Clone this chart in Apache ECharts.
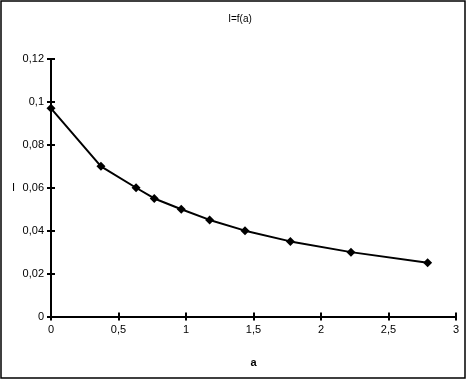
<!DOCTYPE html>
<html>
<head>
<meta charset="utf-8">
<script src="https://cdn.jsdelivr.net/npm/echarts@6/dist/echarts.min.js"></script>
<style>html,body{margin:0;padding:0;background:#fff}#c{width:467px;height:381px}</style>
</head>
<body>
<div id="c"></div>
<script>
const titleText = 'I=f(a)';
const xName = 'a';
const yName = 'I';
const aValues = [0, 0.37, 0.63, 0.765, 0.965, 1.175, 1.437, 1.773, 2.222, 2.79];
const iValues = [0.097, 0.070, 0.060, 0.055, 0.050, 0.045, 0.040, 0.035, 0.030, 0.025];
const xTicks = [0, 0.5, 1, 1.5, 2, 2.5, 3];
const yTicks = [0, 0.02, 0.04, 0.06, 0.08, 0.1, 0.12];

const fmt = v => String(+v.toFixed(4)).replace('.', ',');
const font = 'Liberation Sans, Arial, sans-serif';
const chart = echarts.init(document.getElementById('c'), null, {renderer: 'canvas'});
const axisLine = {show: true, onZero: false, lineStyle: {color: '#000', width: 2}};
const tick = {show: true, length: 4, lineStyle: {color: '#000', width: 2}};
chart.setOption({
  animation: false,
  backgroundColor: '#fff',
  title: {text: titleText, left: 235, top: 9, textAlign: 'center',
    textStyle: {fontFamily: font, fontSize: 10, fontWeight: 'normal', color: '#000'}},
  grid: {left: 51, right: 11, top: 59, bottom: 64.5, containLabel: false},
  graphic: [{type: 'rect', shape: {x: 1, y: 1, width: 464, height: 377},
    style: {fill: 'none', stroke: '#000', lineWidth: 1.5}, silent: true}],
  xAxis: [{
    type: 'value', position: 'bottom', min: xTicks[0], max: xTicks[xTicks.length - 1], interval: 0.5,
    name: xName, nameLocation: 'middle', nameGap: 41,
    nameTextStyle: {fontFamily: font, fontSize: 11, fontWeight: 'bold', color: '#000'},
    axisLine: axisLine, axisTick: tick, splitLine: {show: false},
    axisLabel: {formatter: fmt, fontFamily: font, fontSize: 11, color: '#000', margin: 8}
  }, {
    type: 'value', position: 'bottom', min: xTicks[0], max: xTicks[xTicks.length - 1], interval: 0.5,
    axisLine: {show: false}, axisTick: Object.assign({inside: true}, tick),
    axisLabel: {show: false}, splitLine: {show: false}
  }],
  yAxis: [{
    type: 'value', position: 'left', min: yTicks[0], max: yTicks[yTicks.length - 1], interval: 0.02,
    name: yName, nameLocation: 'middle', nameGap: 36, nameRotate: 0,
    nameTextStyle: {fontFamily: font, fontSize: 11, color: '#000'},
    axisLine: axisLine, axisTick: tick, splitLine: {show: false},
    axisLabel: {formatter: fmt, fontFamily: font, fontSize: 11, color: '#000', margin: 7}
  }, {
    type: 'value', position: 'left', min: yTicks[0], max: yTicks[yTicks.length - 1], interval: 0.02,
    axisLine: {show: false}, axisTick: Object.assign({inside: true}, tick),
    axisLabel: {show: false}, splitLine: {show: false}
  }],
  series: [{
    type: 'line',
    data: aValues.map((a, i) => [a, iValues[i]]),
    symbol: 'diamond', symbolSize: 9,
    lineStyle: {color: '#000', width: 2},
    itemStyle: {color: '#000'},
    z: 5
  }]
});
</script>
</body>
</html>
